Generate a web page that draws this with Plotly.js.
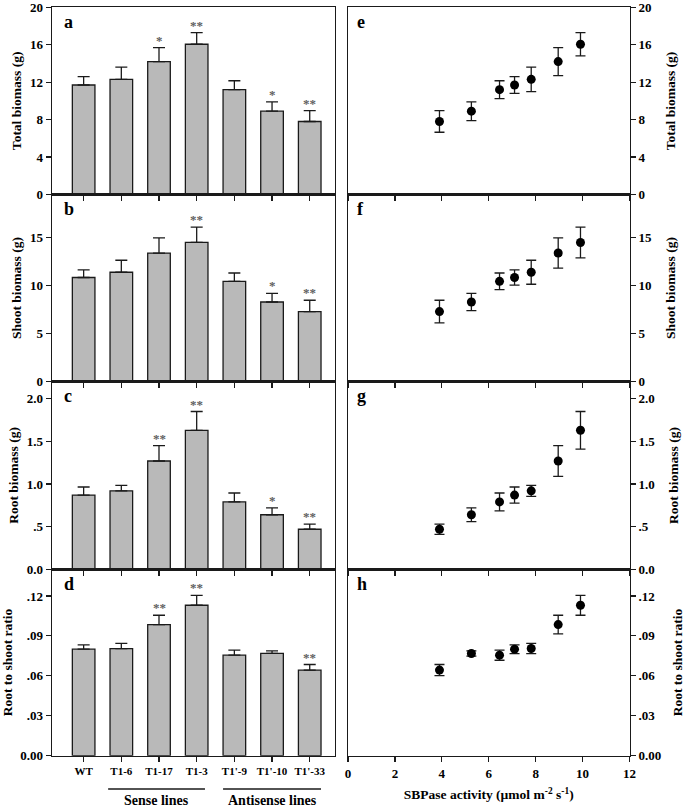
<!DOCTYPE html>
<html>
<head>
<meta charset="utf-8">
<script src="https://cdn.plot.ly/plotly-3.0.1.min.js"></script>
<style>html,body{margin:0;padding:0;background:#fff}#chart{width:685px;height:811px}</style>
</head>
<body>
<div id="chart"></div>
<script>
// ---- data ----
var categories = ["WT", "T1-6", "T1-17", "T1-3", "T1'-9", "T1'-10", "T1'-33"];
var sbpaseActivity = [7.1, 7.81, 8.96, 9.91, 6.46, 5.26, 3.9];

var totalBiomass = [11.7, 12.3, 14.2, 16.05, 11.2, 8.9, 7.8];
var totalErr     = [0.9, 1.3, 1.5, 1.25, 0.95, 1.0, 1.15];
var shootBiomass = [10.85, 11.4, 13.4, 14.5, 10.45, 8.3, 7.3];
var shootErr     = [0.8, 1.25, 1.57, 1.6, 0.87, 0.9, 1.18];
var rootBiomass  = [0.87, 0.92, 1.27, 1.63, 0.79, 0.64, 0.47];
var rootErr      = [0.095, 0.065, 0.18, 0.22, 0.105, 0.08, 0.06];
var rootShoot    = [0.080, 0.0805, 0.0985, 0.113, 0.0755, 0.0768, 0.0643];
var rootShootErr = [0.0033, 0.0038, 0.007, 0.0075, 0.0038, 0.002, 0.0042];

var sigTotal = ["", "", "*", "**", "", "*", "**"];
var sigShoot = ["", "", "", "**", "", "*", "**"];
var sigRoot  = ["", "", "**", "**", "", "*", "**"];
var sigRatio = ["", "", "**", "**", "", "", "**"];

var yTitles = ["Total biomass (g)", "Shoot biomass (g)", "Root biomass (g)", "Root to shoot ratio"];
var panelLetters = ["a", "b", "c", "d", "e", "f", "g", "h"];
var yTickVals = [[0, 4, 8, 12, 16, 20], [0, 5, 10, 15], [0, 0.5, 1.0, 1.5, 2.0], [0, 0.03, 0.06, 0.09, 0.12]];
var yTickText = [["0", "4", "8", "12", "16", "20"], ["0", "5", "10", "15"], ["0.0", ".5", "1.0", "1.5", "2.0"], ["0.00", ".03", ".06", ".09", ".12"]];
var xTickVals = [0, 2, 4, 6, 8, 10, 12];
var groupLabels = ["Sense lines", "Antisense lines"];

// ---- layout helpers ----
var FONT = "Liberation Serif, Times New Roman, serif";
var INK = "#1a1a1a";
var BARFILL = "#b9b9b9";
var yRanges = [[0, 20], [0, 19.5], [0, 2.2], [0, 0.14]];
var rows = [[0.7602, 0.991], [0.5294, 0.7602], [0.298, 0.5294], [0.0682, 0.298]];
var leftDom = [0.0759, 0.489];
var rightDom = [0.508, 0.919];

var series = [totalBiomass, shootBiomass, rootBiomass, rootShoot];
var errs = [totalErr, shootErr, rootErr, rootShootErr];
var sigs = [sigTotal, sigShoot, sigRoot, sigRatio];

var traces = [];
var layout = {
  width: 685, height: 811,
  margin: {l: 0, r: 0, t: 0, b: 0},
  paper_bgcolor: "#fff", plot_bgcolor: "#fff",
  font: {family: FONT, size: 13, color: "#000", weight: "bold"},
  showlegend: false,
  annotations: [], shapes: []
};

for (var i = 0; i < 4; i++) {
  var L = i + 1, R = i + 5;
  var zeros = series[i].map(function () { return 0; });
  traces.push({
    type: "bar", x: categories, y: series[i],
    xaxis: "x" + L, yaxis: "y" + L, width: 0.6,
    marker: {color: BARFILL, line: {color: INK, width: 1.3}},
    error_y: {type: "data", symmetric: false, array: errs[i], arrayminus: zeros,
              color: INK, thickness: 1.3, width: 6},
    hoverinfo: "skip"
  });
  traces.push({
    type: "scatter", mode: "markers", x: sbpaseActivity, y: series[i],
    xaxis: "x" + R, yaxis: "y" + R,
    marker: {color: "#000", size: 9, symbol: "circle"},
    error_y: {type: "data", array: errs[i], color: INK, thickness: 1.3, width: 5},
    hoverinfo: "skip"
  });

  var tickFont = {family: FONT, size: 13, color: "#000", weight: "bold"};
  var titleFont = {family: FONT, size: 13.5, color: "#000", weight: "bold"};

  layout["xaxis" + L] = {
    domain: leftDom, anchor: "y" + L, type: "category", range: [-0.84, 6.67],
    showline: true, mirror: true, linecolor: INK, linewidth: 1.3,
    ticks: "outside", ticklen: 5, tickcolor: INK, tickwidth: 1.2,
    showticklabels: i === 3, tickfont: {family: FONT, size: 11, color: "#000", weight: "bold"},
    ticklabeloverflow: "allow",
    showgrid: false, zeroline: false, fixedrange: true
  };
  layout["yaxis" + L] = {
    domain: rows[i], anchor: "x" + L, range: yRanges[i],
    tickmode: "array", tickvals: yTickVals[i], ticktext: yTickText[i],
    showline: true, mirror: true, linecolor: INK, linewidth: 1.3,
    ticks: "outside", ticklen: 5, tickcolor: INK, tickwidth: 1.2,
    tickfont: tickFont, ticklabeloverflow: "allow", showgrid: false, zeroline: false,
    title: {text: yTitles[i], font: titleFont, standoff: 5}, fixedrange: true
  };
  var xr = {
    domain: rightDom, anchor: "y" + R, range: [0, 12],
    tickmode: "array", tickvals: xTickVals,
    showline: true, mirror: true, linecolor: INK, linewidth: 1.3,
    ticks: "outside", ticklen: 5, tickcolor: INK, tickwidth: 1.2,
    showticklabels: i === 3, tickfont: tickFont, ticklabeloverflow: "allow",
    showgrid: false, zeroline: false, fixedrange: true
  };
  if (i === 3) {
    xr.title = {text: "SBPase activity (\u00b5mol m<sup>-2</sup> s<sup>-1</sup>)",
                font: {family: FONT, size: 13.5, color: "#000", weight: "bold"}, standoff: 10};
  }
  layout["xaxis" + R] = xr;
  layout["yaxis" + R] = {
    domain: rows[i], anchor: "x" + R, side: "right", range: yRanges[i],
    tickmode: "array", tickvals: yTickVals[i], ticktext: yTickText[i],
    showline: true, mirror: true, linecolor: INK, linewidth: 1.3,
    ticks: "outside", ticklen: 5, tickcolor: INK, tickwidth: 1.2,
    tickfont: tickFont, ticklabeloverflow: "allow", showgrid: false, zeroline: false,
    title: {text: yTitles[i], font: titleFont, standoff: 14}, fixedrange: true
  };

  // significance stars
  for (var k = 0; k < categories.length; k++) {
    if (sigs[i][k]) {
      layout.annotations.push({
        xref: "x" + L, yref: "y" + L, x: categories[k], y: series[i][k] + errs[i][k],
        text: sigs[i][k], showarrow: false, yanchor: "bottom", yshift: -2,
        font: {family: FONT, size: 13, color: "#606060", weight: "bold"}
      });
    }
  }
  // panel letters
  layout.annotations.push({
    xref: "x" + L + " domain", yref: "y" + L + " domain", x: 0.035, y: 0.985,
    xanchor: "left", yanchor: "top", text: panelLetters[i], showarrow: false,
    font: {family: FONT, size: 18, color: "#000", weight: "bold"}
  });
  layout.annotations.push({
    xref: "x" + R + " domain", yref: "y" + R + " domain", x: 0.025, y: 0.985,
    xanchor: "left", yanchor: "top", text: panelLetters[i + 4], showarrow: false,
    font: {family: FONT, size: 18, color: "#000", weight: "bold"}
  });
}

// group brackets under the categories
var groupSpans = [[0.65, 3.22], [3.7, 6.3]];
for (var g = 0; g < 2; g++) {
  layout.shapes.push({
    type: "line", xref: "x4", yref: "paper",
    x0: groupSpans[g][0], x1: groupSpans[g][1], y0: 0.0271, y1: 0.0271,
    line: {color: INK, width: 1.3}
  });
  layout.annotations.push({
    xref: "x4", yref: "paper", x: (groupSpans[g][0] + groupSpans[g][1]) / 2, y: 0.0135,
    text: groupLabels[g], showarrow: false, yanchor: "middle",
    font: {family: FONT, size: 14, color: "#000", weight: "bold"}
  });
}

Plotly.newPlot("chart", traces, layout, {displayModeBar: false, staticPlot: true});
</script>
</body>
</html>
